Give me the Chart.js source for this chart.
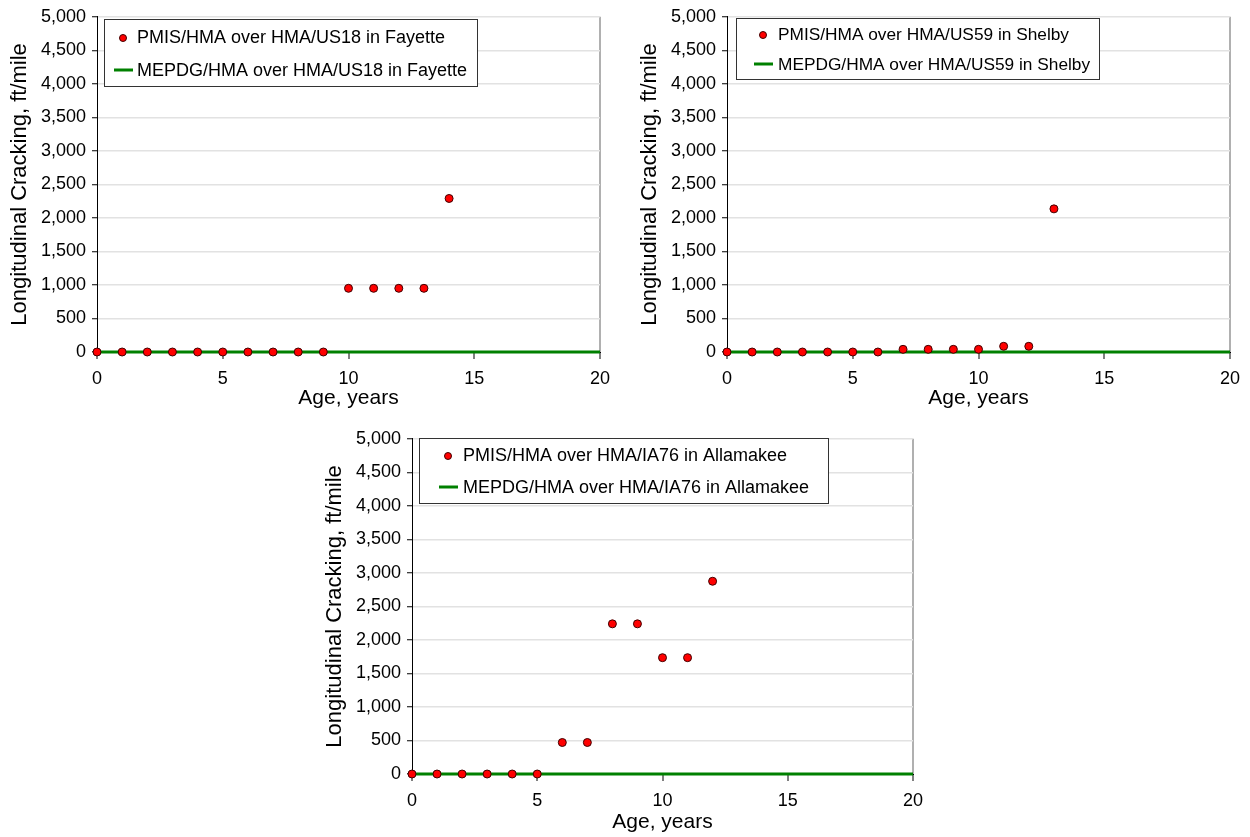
<!DOCTYPE html>
<html lang="en">
<head>
    <meta charset="UTF-8">
    <title>Longitudinal Cracking vs Age</title>
    <script src="https://cdn.jsdelivr.net/npm/chart.js"></script>
    <style>
        body { margin: 0; background: #fff; }
        .wrap { position: relative; width: 1250px; height: 837px; overflow: hidden; }
        .wrap canvas { position: absolute; }
    </style>
</head>
<body>
    <div class="wrap">
        <canvas id="chartFayette" style="left:0;top:0"></canvas>
        <canvas id="chartShelby" style="left:630px;top:0"></canvas>
        <canvas id="chartAllamakee" style="left:315px;top:422px"></canvas>
    </div>
    <script>
        // data
        const ageTicks = [0, 5, 10, 15, 20];
        const crackTicks = [0, 500, 1000, 1500, 2000, 2500, 3000, 3500, 4000, 4500, 5000];

        const fayetteAge = [0, 1, 2, 3, 4, 5, 6, 7, 8, 9, 10, 11, 12, 13, 14];
        const fayettePmis = [0, 0, 0, 0, 0, 0, 0, 0, 0, 0, 950, 950, 950, 950, 2290];

        const shelbyAge = [0, 1, 2, 3, 4, 5, 6, 7, 8, 9, 10, 11, 12, 13];
        const shelbyPmis = [0, 0, 0, 0, 0, 0, 0, 40, 40, 40, 40, 85, 85, 2135];

        const allamakeeAge = [0, 1, 2, 3, 4, 5, 6, 7, 8, 9, 10, 11, 12];
        const allamakeePmis = [0, 0, 0, 0, 0, 0, 470, 470, 2240, 2240, 1735, 1735, 2875];

        const mepdgAge = [0, 20];
        const mepdgValue = [0, 0];

        const FONT = "'Liberation Sans', Arial, sans-serif";

        // boxed legend drawn inside the plot area, like the original
        const boxLegend = {
            id: 'boxLegend',
            afterDraw(chart, args, opts) {
                const ctx = chart.ctx;
                const b = opts.box;
                ctx.save();
                ctx.fillStyle = '#fff';
                ctx.fillRect(b.x, b.y, b.w, b.h);
                ctx.strokeStyle = '#333';
                ctx.lineWidth = 1;
                ctx.strokeRect(b.x + 0.5, b.y + 0.5, b.w, b.h);
                ctx.font = opts.fontSize + 'px ' + FONT;
                ctx.textBaseline = 'middle';
                const ds = chart.data.datasets;
                // row 1: marker
                ctx.beginPath();
                ctx.arc(opts.markerX, opts.row1, 3.5, 0, Math.PI * 2);
                ctx.fillStyle = '#ff0000';
                ctx.fill();
                ctx.strokeStyle = '#400000';
                ctx.stroke();
                ctx.fillStyle = '#000';
                ctx.fillText(ds[0].label, opts.textX, opts.row1);
                // row 2: line
                ctx.beginPath();
                ctx.moveTo(opts.lineX[0], opts.row2 - 1);
                ctx.lineTo(opts.lineX[1], opts.row2 - 1);
                ctx.strokeStyle = '#008000';
                ctx.lineWidth = 3;
                ctx.stroke();
                ctx.fillText(ds[1].label, opts.textX, opts.row2);
                ctx.restore();
            }
        };

        function makeChart(id, w, h, right, titlePad, ages, pmis, site, legend) {
            const canvas = document.getElementById(id);
            canvas.width = w;
            canvas.height = h;
            canvas.style.width = w + 'px';
            canvas.style.height = h + 'px';
            const xHeight = h - 352;
            return new Chart(canvas, {
                type: 'scatter',
                data: {
                    datasets: [{
                        label: 'PMIS/HMA over HMA/' + site,
                        data: ages.map((a, i) => ({ x: a, y: pmis[i] })),
                        backgroundColor: '#ff0000',
                        borderColor: '#400000',
                        borderWidth: 1,
                        pointRadius: 4,
                        showLine: false,
                        clip: false
                    }, {
                        label: 'MEPDG/HMA over HMA/' + site,
                        data: mepdgAge.map((a, i) => ({ x: a, y: mepdgValue[i] })),
                        borderColor: '#008000',
                        borderWidth: 3,
                        pointRadius: 0,
                        showLine: true,
                        clip: false
                    }]
                },
                options: {
                    responsive: false,
                    animation: false,
                    layout: { padding: { left: 0, top: 15, right: right, bottom: 0 } },
                    plugins: {
                        legend: { display: false },
                        tooltip: { enabled: false },
                        boxLegend: legend
                    },
                    scales: {
                        x: {
                            type: 'linear',
                            min: 0,
                            max: 20,
                            afterBuildTicks: s => { s.ticks = ageTicks.map(v => ({ value: v })); },
                            afterFit: s => { s.height = xHeight; },
                            ticks: { color: '#000', font: { family: FONT, size: 18 }, padding: 9, maxRotation: 0 },
                            grid: {
                                color: c => c.tick && c.tick.value === 20 ? '#b0b0b0' : 'rgba(0,0,0,0)',
                                lineWidth: 2,
                                tickColor: '#000',
                                tickWidth: 1,
                                tickLength: 7
                            },
                            border: { color: '#000' },
                            title: {
                                display: true,
                                text: 'Age, years',
                                color: '#000',
                                font: { family: FONT, size: 21 },
                                padding: { top: 0, bottom: titlePad }
                            }
                        },
                        y: {
                            min: 0,
                            max: 5000,
                            afterBuildTicks: s => { s.ticks = crackTicks.map(v => ({ value: v })); },
                            afterFit: s => { s.width = 97; },
                            ticks: {
                                color: '#000',
                                font: { family: FONT, size: 18 },
                                padding: 6,
                                callback: v => v.toLocaleString('en-US')
                            },
                            grid: {
                                color: '#e2e2e2',
                                lineWidth: 1.5,
                                tickColor: '#000',
                                tickWidth: 1,
                                tickLength: 5
                            },
                            border: { color: '#000' },
                            title: {
                                display: true,
                                text: 'Longitudinal Cracking, ft/mile',
                                color: '#000',
                                font: { family: FONT, size: 22 },
                                padding: { top: 7, bottom: 0 }
                            }
                        }
                    }
                },
                plugins: [boxLegend]
            });
        }

        makeChart('chartFayette', 625, 412, 25, 1, fayetteAge, fayettePmis, 'US18 in Fayette', {
            box: { x: 104, y: 19, w: 373, h: 67 }, fontSize: 18,
            markerX: 123, textX: 137, row1: 38, row2: 71, lineX: [114, 133]
        });

        makeChart('chartShelby', 620, 412, 20, 1, shelbyAge, shelbyPmis, 'US59 in Shelby', {
            box: { x: 106, y: 18, w: 363, h: 61 }, fontSize: 17.3,
            markerX: 133, textX: 148, row1: 35, row2: 65, lineX: [124, 143]
        });

        makeChart('chartAllamakee', 625, 415, 27, 2, allamakeeAge, allamakeePmis, 'IA76 in Allamakee', {
            box: { x: 104, y: 16, w: 409, h: 65 }, fontSize: 18,
            markerX: 133, textX: 148, row1: 34, row2: 66, lineX: [124, 143]
        });
    </script>
</body>
</html>
